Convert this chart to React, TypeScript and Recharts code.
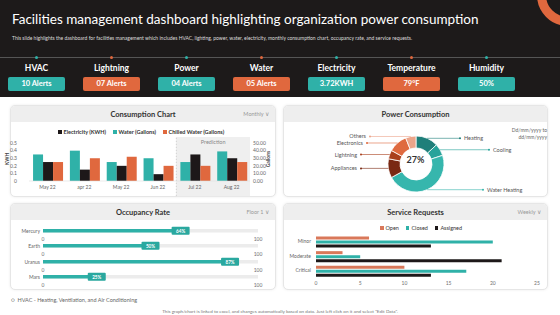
import React from "react";
import {
  ComposedChart,
  BarChart,
  Bar,
  Line,
  XAxis,
  YAxis,
  ReferenceArea,
  ReferenceLine,
  PieChart,
  Pie,
  Cell,
  Label,
  LabelList,
} from "recharts";

const TEAL = "#2fb1a8";
const ORANGE = "#e0683e";
const INK = "#1d1819";
const FONT = "Lato, 'Open Sans', sans-serif";

// header KPIs
const KPI_NAMES = ["HVAC", "Lightning", "Power", "Water", "Electricity", "Temperature", "Humidity"];
const KPI_VALUES = ["10 Alerts", "07 Alerts", "04 Alerts", "05 Alerts", "3.72KWH", "79°F", "50%"];

// consumption chart
const MONTH_KEYS = ["m0", "m1", "m2", "m3", "m4", "m5"];
const MONTH_LABELS = ["May 22", "apr 22", "May 22", "Jun 22", "Jul 22", "Aug 22"];
const WATER = [0.35, 0.4, 0.25, 0.3, 0.25, 0.39];
const ELECTRICITY = [0.25, 0.15, 0.2, 0.09, 0.35, 0.3];
const CHILLED = [0.25, 0.3, 0.32, 0.2, 0.2, 0.25];
const KWH_TICKS = [0, 0.1, 0.2, 0.3, 0.4, 0.5];
const GALLON_TICKS = [0, 10, 20, 30, 40, 50];

// power consumption donut
const SOURCES = ["Heating", "Cooling", "Water Heating", "Appliances", "Lightning", "Electronics", "Others"];
const SHARES = [13, 7, 47, 11, 5, 11, 6];
const SOURCE_COLORS = ["#1f7f7a", "#27a39b", "#36b6ad", "#7a2913", "#a9401c", "#df6a3f", "#eca58a"];
const LABEL_DX: Record<string, number> = {
  Heating: 48,
  Cooling: 77,
  "Water Heating": 71,
  Appliances: -59,
  Lightning: -59,
  Electronics: -53,
  Others: -50,
};

// occupancy
const ROOMS = ["Mercury", "Earth", "Uranus", "Mars"];
const OCCUPANCY = [64, 50, 87, 25];
const OCC_TICKS = [0, 100];

// service requests
const SEVERITY = ["Minor", "Moderate", "Critical"];
const OPEN = [6, 3, 10];
const CLOSED = [20, 5, 17];
const ASSIGNED = [13, 21, 13];
const SERVICE_TICKS = [0, 5, 10, 15, 20, 25];

const consumptionData = MONTH_KEYS.map((k, i) => ({
  key: k,
  water: WATER[i],
  electricity: ELECTRICITY[i],
  chilled: CHILLED[i],
}));
const pieData = SOURCES.map((name, i) => ({ name, value: SHARES[i] }));
const serviceData = SEVERITY.map((s, i) => ({ name: s, open: OPEN[i], closed: CLOSED[i], assigned: ASSIGNED[i] }));

const axisTitle = (text: string, dx: number) => (props: any) => {
  const vb = props.viewBox;
  const x = vb.x + dx;
  const y = vb.y + vb.height / 2;
  return (
    <text
      x={x}
      y={y}
      transform={`rotate(-90 ${x} ${y})`}
      textAnchor="middle"
      dominantBaseline="central"
      fontSize={5}
      fontWeight={700}
      fill="#444"
    >
      {text}
    </text>
  );
};

const pieLabel = (p: any) => {
  const RAD = Math.PI / 180;
  const name = p.name ?? p.payload?.name;
  const color = SOURCE_COLORS[p.index];
  const sx = p.cx + p.outerRadius * Math.cos(-p.midAngle * RAD);
  const sy = p.cy + p.outerRadius * Math.sin(-p.midAngle * RAD);
  const right = sx > p.cx;
  const tx = p.cx + LABEL_DX[name];
  const ex = right ? tx - 4 : tx + 4;
  return (
    <g>
      <line x1={sx} y1={sy} x2={ex} y2={sy} stroke={color} strokeWidth={0.6} />
      <circle cx={ex} cy={sy} r={1} fill={color} />
      <text x={tx} y={sy} textAnchor={right ? "start" : "end"} dominantBaseline="central" fontSize={5.5} fill="#555">
        {name}
      </text>
    </g>
  );
};

const pctBadge = (p: any) => {
  const cx = p.x + p.width;
  const cy = p.y + p.height / 2;
  return (
    <g>
      <rect x={cx - 9} y={cy - 4} width={18} height={8} rx={1} fill="#2aa89f" />
      <text x={cx} y={cy} textAnchor="middle" dominantBaseline="central" fontSize={4.6} fontWeight={700} fill="#fff">
        {p.value}%
      </text>
    </g>
  );
};

// plain tick renderer for the numeric axes
const numTick = (p: any) => (
  <text x={p.x} y={p.y} dy="0.71em" textAnchor="middle" fontSize={5} fill="#6f6f6f">
    {p.payload.value}
  </text>
);

function Panel({ x, y, w, h, title, extra }: { x: number; y: number; w: number; h: number; title: string; extra?: string }) {
  return (
    <div
      style={{
        position: "absolute",
        left: x,
        top: y,
        width: w,
        height: h,
        boxSizing: "border-box",
        border: "1px solid #e6e6e6",
        borderRadius: 5,
        boxShadow: "0 0 3px rgba(0,0,0,0.08)",
        background: "#fff",
        overflow: "hidden",
      }}
    >
      <div
        style={{
          height: 16,
          background: "#eeeeee",
          textAlign: "center",
          fontSize: 7.5,
          fontWeight: 700,
          color: "#333",
          lineHeight: "17px",
          position: "relative",
        }}
      >
        {title}
        {extra && (
          <span style={{ position: "absolute", right: 6, top: 0, fontSize: 5.5, fontWeight: 400, color: "#999" }}>
            {extra} ∨
          </span>
        )}
      </div>
    </div>
  );
}

function Swatch({ color, label, round }: { color: string; label: string; round?: boolean }) {
  return (
    <span style={{ display: "inline-flex", alignItems: "center", marginRight: 7 }}>
      <span style={{ width: 3.5, height: 3.5, background: color, borderRadius: round ? 2 : 0, marginRight: 2 }} />
      {label}
    </span>
  );
}

export default function App() {
  return (
    <div
      style={{
        position: "absolute",
        left: 0,
        top: 0,
        width: 560,
        height: 315,
        background: "#fff",
        overflow: "hidden",
        fontFamily: FONT,
      }}
    >
      {/* dark header */}
      <div style={{ position: "absolute", left: 0, top: 0, width: 560, height: 97, background: "#1d1a1a" }}>
        <div
          style={{
            position: "absolute",
            left: 537,
            top: -36,
            width: 62,
            height: 62,
            boxSizing: "border-box",
            border: `9px solid ${ORANGE}`,
            borderRadius: "50%",
          }}
        />
        <div style={{ position: "absolute", left: 12, top: 11, fontSize: 13.5, lineHeight: "16px", color: "#fff", whiteSpace: "nowrap" }}>
          Facilities management dashboard highlighting organization power consumption
        </div>
        <div style={{ position: "absolute", left: 12, top: 35, fontSize: 5, lineHeight: "6px", color: "#ddd", whiteSpace: "nowrap" }}>
          This slide highlights the dashboard for facilities management which includes HVAC, lighting, power, water, electricity,
          monthly consumption chart, occupancy rate, and service requests.
        </div>
        <div style={{ position: "absolute", left: 0, top: 57, width: 560, height: 1, background: "#555" }} />
        {KPI_NAMES.map((n, i) => {
          const cx = 36.5 + 75 * i;
          const color = i % 2 === 0 ? TEAL : ORANGE;
          return (
            <React.Fragment key={n}>
              <div
                style={{ position: "absolute", left: cx - 1.5, top: 56, width: 3, height: 3, borderRadius: "50%", background: color }}
              />
              <div
                style={{
                  position: "absolute",
                  left: cx - 35,
                  width: 70,
                  top: 63,
                  textAlign: "center",
                  fontSize: 8.5,
                  fontWeight: 700,
                  color: "#fff",
                  lineHeight: "11px",
                }}
              >
                {n}
              </div>
              <div
                style={{
                  position: "absolute",
                  left: cx - 28.5,
                  width: 57,
                  top: 77,
                  height: 14,
                  borderRadius: 2,
                  background: color,
                  textAlign: "center",
                  fontSize: 7.5,
                  fontWeight: 700,
                  color: "#fff",
                  lineHeight: "14px",
                }}
              >
                {KPI_VALUES[i]}
              </div>
            </React.Fragment>
          );
        })}
      </div>

      <Panel x={10} y={105} w={266} h={92} title="Consumption Chart" extra="Monthly" />
      <Panel x={283} y={105} w={265} h={92} title="Power Consumption" />
      <Panel x={10} y={203} w={266} h={87} title="Occupancy Rate" extra="Floor 1" />
      <Panel x={283} y={203} w={265} h={87} title="Service Requests" extra="Weekly" />

      {/* consumption chart */}
      <div
        style={{
          position: "absolute",
          left: 58,
          top: 129,
          fontSize: 5.5,
          fontWeight: 700,
          color: "#333",
          display: "flex",
          whiteSpace: "nowrap",
        }}
      >
        <Swatch color={INK} label="Electricity (KWH)" />
        <Swatch color={TEAL} label="Water (Gallons)" />
        <Swatch color={ORANGE} label="Chilled Water (Gallons)" />
      </div>
      <div style={{ position: "absolute", left: 0, top: 122 }}>
        <ComposedChart
          width={280}
          height={75}
          data={consumptionData}
          margin={{ top: 15, right: 0, bottom: 0, left: 0 }}
          barCategoryGap="11%"
          barGap={0}
        >
          <ReferenceArea
            yAxisId="kwh"
            x1="m4"
            x2="m5"
            y1={-0.2}
            y2={0.58}
            ifOverflow="visible"
            fill="#efefef"
            fillOpacity={1}
            stroke="none"
            label={{ value: "Prediction", position: "insideTop", offset: 3, fontSize: 5.5, fill: "#888" }}
          />
          <ReferenceLine
            yAxisId="kwh"
            segment={[
              { x: "m4", y: -0.2 },
              { x: "m4", y: 0.58 },
            ]}
            position="start"
            ifOverflow="visible"
            stroke="#bbb"
            strokeWidth={0.6}
            strokeDasharray="1.5 1.5"
          />
          <XAxis
            dataKey="key"
            tickFormatter={(k: string) => MONTH_LABELS[MONTH_KEYS.indexOf(k)]}
            height={16}
            tickSize={0}
            tickMargin={4}
            axisLine={{ stroke: "#ddd", strokeWidth: 0.6 }}
            tickLine={false}
            tick={{ fontSize: 5, fill: "#666" }}
            interval={0}
          />
          <YAxis
            yAxisId="kwh"
            domain={[0, 0.58]}
            ticks={KWH_TICKS}
            interval={0}
            width={29}
            tickSize={0}
            tickMargin={12}
            axisLine={false}
            tickLine={false}
            tick={{ fontSize: 5, fill: "#666" }}
            tickFormatter={(v: number) => (v === 0 ? "0" : String(v))}
            label={axisTitle("KWH", 7)}
          />
          <YAxis
            yAxisId="gal"
            orientation="right"
            domain={[0, 58]}
            ticks={GALLON_TICKS}
            interval={0}
            width={30}
            tickSize={0}
            tickMargin={3}
            axisLine={false}
            tickLine={false}
            tick={{ fontSize: 5, fill: "#666" }}
            tickFormatter={(v: number) => v.toFixed(2)}
            label={axisTitle("Gallons", 18)}
          />
          <Bar yAxisId="kwh" dataKey="water" fill={TEAL} isAnimationActive={false} />
          <Bar yAxisId="kwh" dataKey="electricity" fill={INK} isAnimationActive={false} />
          <Bar yAxisId="kwh" dataKey="chilled" fill={ORANGE} isAnimationActive={false} />
          {/* carries the gallons axis; drawn without stroke */}
          <Line
            yAxisId="gal"
            dataKey="water"
            stroke="none"
            dot={false}
            activeDot={false}
            legendType="none"
            isAnimationActive={false}
          />
        </ComposedChart>
      </div>

      {/* power consumption donut */}
      <div style={{ position: "absolute", left: 400, top: 127, width: 147, textAlign: "right", fontSize: 5, lineHeight: "7px", color: "#666" }}>
        Dd/mm/yyyy to
        <br />
        dd/mm/yyyy
      </div>
      <div style={{ position: "absolute", left: 283, top: 122 }}>
        <PieChart width={265} height={75} margin={{ top: 0, right: 0, bottom: 0, left: 0 }}>
          <Pie
            data={pieData}
            dataKey="value"
            nameKey="name"
            cx={133}
            cy={42}
            innerRadius={16}
            outerRadius={28}
            startAngle={90}
            endAngle={-270}
            stroke="#fff"
            strokeWidth={0.8}
            label={pieLabel}
            labelLine={false}
            isAnimationActive={false}
          >
            {pieData.map((d, i) => (
              <Cell key={d.name} fill={SOURCE_COLORS[i]} />
            ))}
            <Label value="27%" position="center" fontSize={9} fontWeight={700} fill="#333" />
          </Pie>
        </PieChart>
      </div>

      {/* occupancy rate rows */}
      {ROOMS.map((room, i) => (
        <div key={room} style={{ position: "absolute", left: 10, top: 225 + i * 15.33 }}>
          <BarChart
            layout="vertical"
            width={266}
            height={20}
            data={[{ name: room, v: OCCUPANCY[i] }]}
            margin={{ top: 4, right: 18, bottom: 0, left: 0 }}
          >
            <XAxis
              type="number"
              domain={[0, 100]}
              ticks={OCC_TICKS}
              interval={0}
              height={12}
              tickSize={0}
              tickMargin={4}
              axisLine={false}
              tickLine={false}
              tick={numTick}
            />
            <YAxis
              type="category"
              dataKey="name"
              interval={0}
              width={33}
              tickSize={0}
              tickMargin={3}
              axisLine={false}
              tickLine={false}
              tick={{ fontSize: 5, fill: "#666" }}
            />
            <Bar dataKey="v" fill={TEAL} barSize={4} background={{ fill: "#ececec" }} isAnimationActive={false}>
              <LabelList dataKey="v" content={pctBadge} />
            </Bar>
          </BarChart>
        </div>
      ))}

      {/* service requests */}
      <div
        style={{
          position: "absolute",
          left: 380,
          top: 225,
          fontSize: 5.5,
          color: "#333",
          display: "flex",
          whiteSpace: "nowrap",
        }}
      >
        <Swatch color="#d9785a" label="Open" />
        <Swatch color={TEAL} label="Closed" />
        <Swatch color={INK} label="Assigned" />
      </div>
      <div style={{ position: "absolute", left: 283, top: 230 }}>
        <BarChart
          layout="vertical"
          width={265}
          height={60}
          data={serviceData}
          margin={{ top: 4, right: 11, bottom: 0, left: 0 }}
          barCategoryGap="17%"
          barGap={1}
        >
          <XAxis
            type="number"
            domain={[0, 25]}
            ticks={SERVICE_TICKS}
            interval={0}
            height={12}
            tickSize={0}
            tickMargin={3}
            axisLine={false}
            tickLine={false}
            tick={numTick}
          />
          <YAxis
            type="category"
            dataKey="name"
            interval={0}
            width={33}
            tickSize={0}
            tickMargin={5}
            axisLine={false}
            tickLine={false}
            tick={{ fontSize: 5, fill: "#666" }}
          />
          <Bar dataKey="open" fill="#d9785a" isAnimationActive={false} />
          <Bar dataKey="closed" fill={TEAL} isAnimationActive={false} />
          <Bar dataKey="assigned" fill={INK} isAnimationActive={false} />
        </BarChart>
      </div>

      {/* footnotes */}
      <div style={{ position: "absolute", left: 11, top: 297, fontSize: 5.5, lineHeight: "7px", color: "#666", whiteSpace: "nowrap" }}>
        ○&nbsp;&nbsp;HVAC - Heating, Ventilation, and Air Conditioning
      </div>
      <div
        style={{
          position: "absolute",
          left: 0,
          width: 560,
          top: 308,
          textAlign: "center",
          fontSize: 4.6,
          lineHeight: "6px",
          color: "#777",
          whiteSpace: "nowrap",
        }}
      >
        This graph/chart is linked to excel, and changes automatically based on data. Just left click on it and select "Edit Data".
      </div>
    </div>
  );
}
